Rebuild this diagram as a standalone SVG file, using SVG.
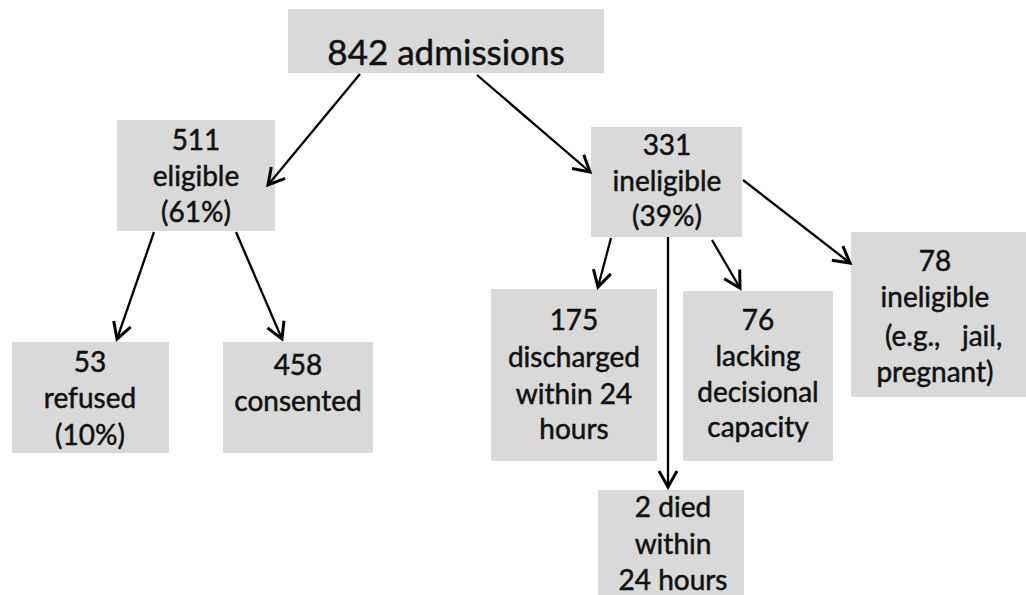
<svg xmlns="http://www.w3.org/2000/svg" width="1026" height="595" viewBox="0 0 1026 595">
<defs>
<marker id="ah" viewBox="0 0 24 24" refX="21" refY="12" markerWidth="24" markerHeight="24" markerUnits="userSpaceOnUse" orient="auto">
<path d="M5,3 L21,12 L5,21" fill="none" stroke="#000" stroke-width="3"/>
</marker>
<style>
.box{fill:#d9d9d9}
text{font-family:Lato,"Liberation Sans",sans-serif;font-size:28px;fill:#111;stroke:#111;stroke-width:0.5;text-anchor:middle}
.big{font-size:35px}
.c line{stroke:#000;stroke-width:2.3;marker-end:url(#ah)}
</style>
</defs>
<rect width="1026" height="595" fill="#fff"/>
<g id="n-admissions"><rect class="box" x="288" y="9" width="316" height="64"/><text class="big" x="446" y="65">842 admissions</text></g>
<g id="n-eligible"><rect class="box" x="117" y="120" width="158" height="111"/><text x="196" y="150">511</text><text x="196" y="186">eligible</text><text x="196" y="222">(61%)</text></g>
<g id="n-refused"><rect class="box" x="12" y="342" width="157" height="111"/><text x="90" y="372">53</text><text x="90" y="408">refused</text><text x="90" y="445">(10%)</text></g>
<g id="n-consented"><rect class="box" x="223" y="342" width="150" height="111"/><text x="298" y="375">458</text><text x="298" y="411">consented</text></g>
<g id="n-ineligible"><rect class="box" x="591" y="127" width="151" height="110"/><text x="667" y="155">331</text><text x="667" y="191">ineligible</text><text x="667" y="226">(39%)</text></g>
<g id="n-discharged"><rect class="box" x="491" y="289" width="166" height="172"/><text x="574" y="330">175</text><text x="574" y="367">discharged</text><text x="574" y="404">within 24</text><text x="574" y="439">hours</text></g>
<g id="n-lacking"><rect class="box" x="683" y="291" width="150" height="170"/><text x="758" y="330">76</text><text x="758" y="366">lacking</text><text x="758" y="402">decisional</text><text x="758" y="437">capacity</text></g>
<g id="n-other"><rect class="box" x="851" y="232" width="175" height="165"/><text x="935" y="271">78</text><text x="935" y="307">ineligible</text><text x="940" y="346" xml:space="preserve"> (e.g.,   jail,</text><text x="935" y="382">pregnant)</text></g>
<g id="n-died"><rect class="box" x="598" y="490" width="146" height="105"/><text x="673" y="517">2 died</text><text x="673" y="554">within</text><text x="673" y="590">24 hours</text></g>
<g class="c" id="connectors">
<line x1="360" y1="74" x2="268" y2="185"/>
<line x1="477" y1="75" x2="590" y2="172"/>
<line x1="154" y1="232" x2="117" y2="339"/>
<line x1="236" y1="232" x2="282" y2="339"/>
<line x1="611" y1="238" x2="598" y2="287"/>
<line x1="668" y1="237" x2="668" y2="487"/>
<line x1="712" y1="240" x2="740" y2="288"/>
<line x1="743" y1="180" x2="850" y2="263"/>
</g>
</svg>
